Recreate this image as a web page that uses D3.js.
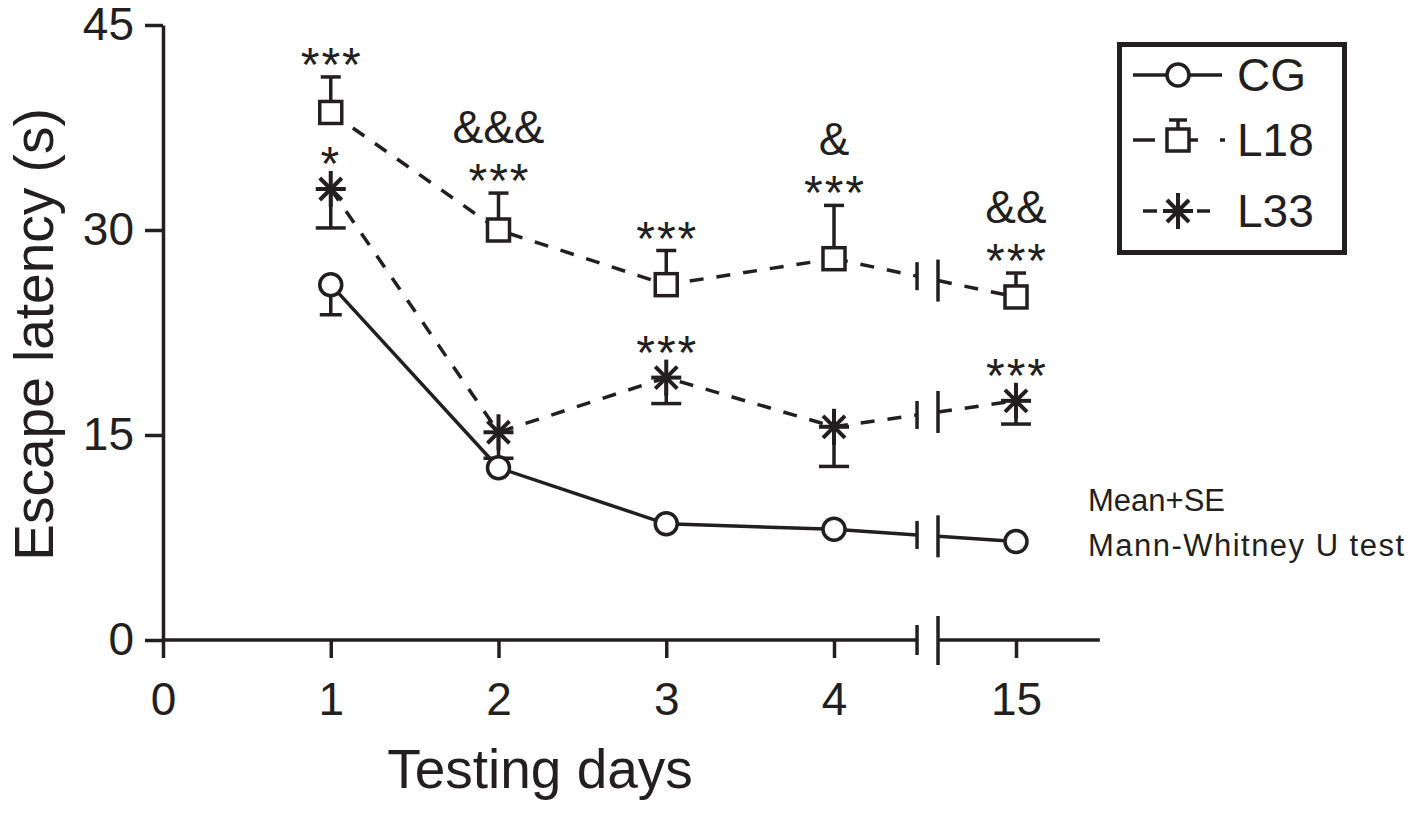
<!DOCTYPE html>
<html>
<head>
<meta charset="utf-8">
<script src="https://cdn.jsdelivr.net/npm/d3@7"></script>
<style>
  body { margin: 0; background: #fff; }
  text { font-family: "Liberation Sans", Arial, Helvetica, sans-serif; fill: #231f20; }
</style>
</head>
<body>
<div id="chart"></div>
<script>
// data
let days = [1, 2, 3, 4, 15];
let xTickValues = [0, 1, 2, 3, 4, 15];
let yTickValues = [0, 15, 30, 45];

let cgMean = [26.0, 12.6, 8.5, 8.1, 7.2];
let cgSE = [2.2, 0, 0, 0, 0];
let l18Mean = [38.6, 30.0, 26.0, 27.9, 25.1];
let l18SE = [2.6, 2.7, 2.5, 3.9, 1.75];
let l33Mean = [33.0, 15.2, 19.2, 15.6, 17.5];
let l33SE = [2.85, 1.9, 1.9, 2.9, 1.7];

let seriesNames = ["CG", "L18", "L33"];

// significance marks (lines from top to bottom)
let notes = [
  { day: 1, series: "L18", lines: ["***"] },
  { day: 1, series: "L33", lines: ["*"] },
  { day: 2, series: "L18", lines: ["&&&", "***"] },
  { day: 3, series: "L18", lines: ["***"] },
  { day: 3, series: "L33", lines: ["***"] },
  { day: 4, series: "L18", lines: ["&", "***"] },
  { day: 15, series: "L18", lines: ["&&", "***"] },
  { day: 15, series: "L33", lines: ["***"] }
];

let footLines = ["Mean+SE", "Mann-Whitney U test"];

((() => {
  let width = 1409;
  let height = 814;
  let ink = "#231f20";

  let svg = d3.select("#chart")
    .append("svg")
    .attr("width", width)
    .attr("height", height);

  // x is piecewise: days 0..4 evenly spaced, then a break before day 15
  let x = d3.scaleLinear().domain([0, 4, 15]).range([163, 834, 1016]);
  let y = d3.scaleLinear().domain([0, 45]).range([640, 25]);
  let step = x(1) - x(0);
  let breakL = x(4) + 0.495 * step;
  let breakR = x(4) + 0.62 * step;
  let xEnd = x(15) + 0.5 * step;

  // L18 bars go up, CG and L33 bars go down
  let series = [
    { name: "CG", mean: cgMean, se: cgSE, dir: 1, dash: null, marker: "circle", cap: 22 },
    { name: "L18", mean: l18Mean, se: l18SE, dir: -1, dash: "14,13", marker: "square", cap: 20 },
    { name: "L33", mean: l33Mean, se: l33SE, dir: 1, dash: "14,13", marker: "star", cap: 30 }
  ];
  series.forEach(s => {
    s.points = days.map((d, i) => ({ day: d, mean: s.mean[i], se: s.se[i] }));
  });

  // ---- y axis
  let yAxis = svg.append("g")
    .attr("transform", "translate(" + x(0) + ",0)")
    .call(d3.axisLeft(y).tickValues(yTickValues).tickSize(18).tickSizeOuter(0).tickPadding(11));
  yAxis.selectAll("path, line").attr("stroke", ink).attr("stroke-width", 3.5);
  yAxis.selectAll("text").style("font-size", "46px").attr("fill", ink)
    .style("font-family", "'Liberation Sans', Arial, sans-serif");

  // ---- x axis, drawn in two pieces around the break
  let xAxis = svg.append("g")
    .attr("transform", "translate(0," + y(0) + ")")
    .call(d3.axisBottom(x).tickValues(xTickValues).tickFormat(d3.format("d"))
      .tickSize(18).tickSizeOuter(0).tickPadding(24));
  xAxis.select(".domain").remove();
  xAxis.selectAll("line").attr("stroke", ink).attr("stroke-width", 3.5);
  xAxis.selectAll("text").style("font-size", "46px").attr("fill", ink)
    .style("font-family", "'Liberation Sans', Arial, sans-serif");

  let axisLine = xAxis.append("g").attr("stroke", ink).attr("stroke-width", 3.5).attr("fill", "none");
  axisLine.append("line").attr("x1", x(0)).attr("x2", breakL).attr("y1", 0).attr("y2", 0);
  axisLine.append("line").attr("x1", breakR).attr("x2", xEnd).attr("y1", 0).attr("y2", 0);
  axisLine.append("line").attr("x1", breakL).attr("x2", breakL).attr("y1", -15).attr("y2", 15);
  axisLine.append("line").attr("x1", breakR).attr("x2", breakR).attr("y1", -24).attr("y2", 25);

  // axis titles
  svg.append("text")
    .attr("transform", "translate(53," + ((y(0) + y(45)) / 2 + 2) + ") rotate(-90)")
    .attr("text-anchor", "middle")
    .style("font-size", "55px")
    .text("Escape latency (s)");

  svg.append("text")
    .attr("x", 540)
    .attr("y", 788)
    .attr("text-anchor", "middle")
    .style("font-size", "55px")
    .text("Testing days");

  // ---- lines
  let line = d3.line().x(d => x(d.day)).y(d => y(d.mean));
  let lineGroup = svg.append("g").attr("fill", "none").attr("stroke", ink).attr("stroke-width", 3.5);

  series.forEach(s => {
    let before = s.points.filter(p => p.day <= 4);
    let p4 = s.points[3], p15 = s.points[4];
    let t = d3.interpolateNumber(y(p4.mean), y(p15.mean));
    let yAt = px => t((px - x(4)) / (x(15) - x(4)));

    lineGroup.append("path")
      .datum(before)
      .attr("d", line)
      .attr("stroke-dasharray", s.dash);

    // segment up to the break and after it
    lineGroup.append("line")
      .attr("x1", x(4)).attr("y1", y(p4.mean))
      .attr("x2", breakL).attr("y2", yAt(breakL))
      .attr("stroke-dasharray", s.dash);
    lineGroup.append("line")
      .attr("x1", breakR).attr("y1", yAt(breakR))
      .attr("x2", x(15)).attr("y2", y(p15.mean))
      .attr("stroke-dasharray", s.dash);

    lineGroup.append("line")
      .attr("x1", breakL).attr("x2", breakL)
      .attr("y1", yAt(breakL) - 14).attr("y2", yAt(breakL) + 14);
    lineGroup.append("line")
      .attr("x1", breakR).attr("x2", breakR)
      .attr("y1", yAt(breakR) - 21).attr("y2", yAt(breakR) + 21);
  });

  // ---- error bars
  let barGroup = svg.append("g").attr("stroke", ink).attr("stroke-width", 3.5);
  series.forEach(s => {
    s.points.filter(p => p.se > 0).forEach(p => {
      let end = y(p.mean - s.dir * p.se);
      barGroup.append("line")
        .attr("x1", x(p.day)).attr("x2", x(p.day))
        .attr("y1", y(p.mean)).attr("y2", end);
      barGroup.append("line")
        .attr("x1", x(p.day) - s.cap / 2).attr("x2", x(p.day) + s.cap / 2)
        .attr("y1", end).attr("y2", end);
    });
  });

  // ---- markers
  function drawMarker(g, type, cx, cy) {
    if (type === "circle") {
      g.append("circle").attr("cx", cx).attr("cy", cy).attr("r", 11)
        .attr("fill", "#fff").attr("stroke", ink).attr("stroke-width", 3.5);
    } else if (type === "square") {
      g.append("rect").attr("x", cx - 11).attr("y", cy - 11).attr("width", 22).attr("height", 22)
        .attr("fill", "#fff").attr("stroke", ink).attr("stroke-width", 3.5);
    } else {
      let arms = [[0, -18, 0, 18], [-15, 0, 15, 0], [-11, -11, 11, 11], [-11, 11, 11, -11]];
      arms.forEach(a => {
        g.append("line")
          .attr("x1", cx + a[0]).attr("y1", cy + a[1])
          .attr("x2", cx + a[2]).attr("y2", cy + a[3])
          .attr("stroke", ink).attr("stroke-width", 4);
      });
    }
  }

  let markerGroup = svg.append("g");
  series.forEach(s => {
    s.points.forEach(p => drawMarker(markerGroup, s.marker, x(p.day), y(p.mean)));
  });

  // ---- significance marks
  let noteGroup = svg.append("g").attr("text-anchor", "middle");
  notes.forEach(n => {
    let s = series.find(d => d.name === n.series);
    let p = s.points.find(d => d.day === n.day);
    let base = s.dir < 0 ? y(p.mean + p.se) + 4 : y(p.mean) - 9;
    n.lines.slice().reverse().forEach((txt, k) => {
      let isStar = txt.indexOf("*") >= 0;
      noteGroup.append("text")
        .attr("x", x(n.day) + (isStar && txt.length > 1 ? 1 : 0))
        .attr("y", base - k * 54)
        .style("font-size", isStar ? "48px" : "46px")
        .style("letter-spacing", isStar ? "2px" : null)
        .text(txt);
    });
  });

  // ---- legend
  let legend = svg.append("g").attr("class", "legend").attr("transform", "translate(1117,42)");
  legend.append("rect")
    .attr("x", 2.5).attr("y", 2.5).attr("width", 225).attr("height", 208)
    .attr("fill", "#fff").attr("stroke", ink).attr("stroke-width", 5);

  let rowY = [33, 98, 169];
  let symX = 61;
  seriesNames.forEach((name, i) => {
    let s = series.find(d => d.name === name);
    let row = legend.append("g").attr("transform", "translate(0," + rowY[i] + ")");
    let lg = row.append("g").attr("stroke", ink).attr("stroke-width", 3.5);
    if (name === "CG") {
      lg.append("line").attr("x1", 16).attr("x2", 105).attr("y1", 0).attr("y2", 0);
    } else if (name === "L18") {
      [[16, 38], [73, 81], [103, 108]].forEach(seg => {
        lg.append("line").attr("x1", seg[0]).attr("x2", seg[1]).attr("y1", 0).attr("y2", 0);
      });
      lg.append("line").attr("x1", symX).attr("x2", symX).attr("y1", 0).attr("y2", -20);
      lg.append("line").attr("x1", symX - 9).attr("x2", symX + 9).attr("y1", -20).attr("y2", -20);
    } else {
      [[26, 40], [80, 93]].forEach(seg => {
        lg.append("line").attr("x1", seg[0]).attr("x2", seg[1]).attr("y1", 0).attr("y2", 0);
      });
    }
    drawMarker(row, s.marker, symX, 0);
    row.append("text")
      .attr("x", 120)
      .attr("y", 16)
      .style("font-size", "46px")
      .text(name);
  });

  // ---- footnote
  let foot = svg.append("g").style("font-size", "31px");
  foot.selectAll("text")
    .data(footLines)
    .enter()
    .append("text")
    .attr("x", 1088)
    .attr("y", (d, i) => 511 + i * 45)
    .attr("textLength", (d, i) => i === 1 ? 316 : null)
    .attr("lengthAdjust", "spacing")
    .text(d => d);
})());
</script>
</body>
</html>
